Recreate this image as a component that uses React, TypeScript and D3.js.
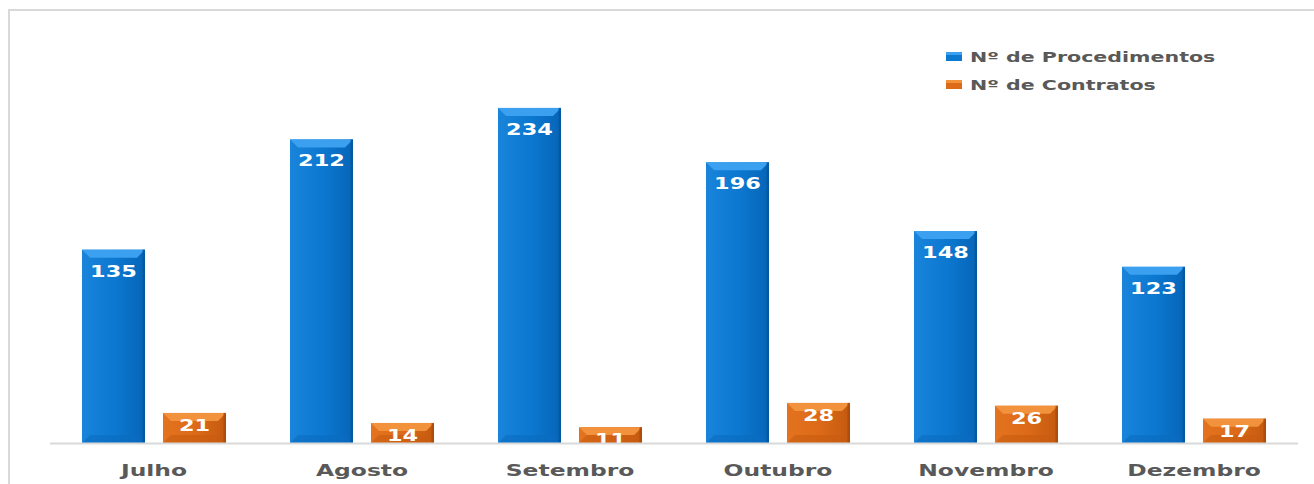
import * as d3 from "d3";

const months = ["Julho", "Agosto", "Setembro", "Outubro", "Novembro", "Dezembro"];
const procedimentos = [135, 212, 234, 196, 148, 123];
const contratos = [21, 14, 11, 28, 26, 17];
const seriesNames = ["Nº de Procedimentos", "Nº de Contratos"];

const W = 1314;
const H = 484;
const FONT = "'DejaVu Sans', Verdana, sans-serif";

const palettes = [
  { light: "#1984da", mid: "#0c78d0", dark: "#0665b8", edge: "#05569e", top: "#3aa0ef", bottom: "#0a6cc0" },
  { light: "#e4731f", mid: "#dc6a18", dark: "#c45a10", edge: "#a9490a", top: "#f2923c", bottom: "#c85c10" },
];

function Bar({ x, y, w, h, p, id }: { x: number; y: number; w: number; h: number; p: number; id: string }) {
  const c = palettes[p];
  const b = Math.min(8, h / 2);
  return (
    <g>
      <rect x={x} y={y} width={w} height={h} fill={`url(#${id})`} />
      <polygon
        points={`${x},${y} ${x + w},${y} ${x + w - b},${y + b} ${x + b},${y + b}`}
        fill={c.top}
      />
      <polygon
        points={`${x},${y + h} ${x + w},${y + h} ${x + w - b},${y + h - b} ${x + b},${y + h - b}`}
        fill={c.bottom}
        opacity={0.6}
      />
      <rect x={x + w - 2.5} y={y} width={2.5} height={h} fill={c.edge} opacity={0.8} />
    </g>
  );
}

function SText({ x, y, sx, size, fill, children, anchor = "middle" }: any) {
  return (
    <text
      transform={`translate(${x},${y}) scale(${sx},1)`}
      textAnchor={anchor}
      fontFamily={FONT}
      fontWeight="bold"
      fontSize={size}
      fill={fill}
    >
      {children}
    </text>
  );
}

export default function App() {
  const baseY = 443;
  const x0 = d3.scaleBand<string>().domain(months).range([50, 1298]).padding(0);
  const x1 = d3
    .scaleBand<string>()
    .domain(seriesNames)
    .range([0, x0.bandwidth()])
    .paddingInner(0.222)
    .paddingOuter(0.395);
  const y = d3.scaleLinear().domain([0, 250]).range([baseY, baseY - 250 * 1.432]);
  const series = [procedimentos, contratos];

  return (
    <svg width={W} height={H} style={{ position: "absolute", left: 0, top: 0, background: "#fff" }}>
      <defs>
        {palettes.map((c, i) => (
          <linearGradient key={i} id={`g${i}`} x1="0" x2="1" y1="0" y2="0">
            <stop offset="0" stopColor={c.light} />
            <stop offset="0.5" stopColor={c.mid} />
            <stop offset="0.52" stopColor={c.mid} />
            <stop offset="1" stopColor={c.dark} />
          </linearGradient>
        ))}
      </defs>
      <rect x={9} y={10} width={1310} height={480} fill="none" stroke="#d9d9d9" strokeWidth={2} />

      {months.map((m, i) => (
        <g key={m}>
          {series.map((vals, s) => {
            const bx = (x0(m) ?? 0) + (x1(seriesNames[s]) ?? 0);
            const bw = x1.bandwidth();
            const top = y(vals[i]);
            return (
              <g key={s}>
                <Bar x={bx} y={top} w={bw} h={baseY - top} p={s} id={`g${s}`} />
                <SText x={bx + bw / 2} y={top + (s === 0 ? 27 : 18)} sx={1.36} size={16.5} fill="#fff">
                  {vals[i]}
                </SText>
              </g>
            );
          })}
          <SText x={(x0(m) ?? 0) + x0.bandwidth() / 2} y={476} sx={1.42} size={16.5} fill="#595959">
            {m}
          </SText>
        </g>
      ))}
      <rect x={50} y={baseY + 2} width={1248} height={3} fill="#fff" />
      <line x1={50} x2={1298} y1={baseY + 0.5} y2={baseY + 0.5} stroke="#d9d9d9" strokeWidth={2} />

      {seriesNames.map((n, i) => (
        <g key={n}>
          <rect x={946} y={52 + i * 28} width={16} height={9} fill={palettes[i].mid} />
          <rect x={946} y={52 + i * 28} width={16} height={3} fill={palettes[i].top} />
          <SText x={970} y={61.5 + i * 28} sx={1.47} size={14} fill="#595959" anchor="start">
            {n}
          </SText>
        </g>
      ))}
    </svg>
  );
}
